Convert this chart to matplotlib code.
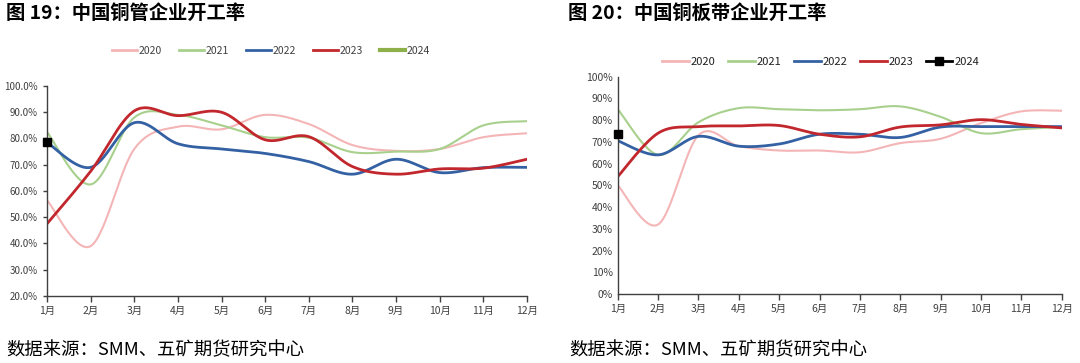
import matplotlib
matplotlib.use("Agg")
import matplotlib.pyplot as plt
from matplotlib.lines import Line2D
from matplotlib.ticker import FuncFormatter
import numpy as np

plt.rcParams["font.family"] = ["Noto Sans CJK SC", "DejaVu Sans"]

months = ["1月", "2月", "3月", "4月", "5月", "6月", "7月", "8月", "9月", "10月", "11月", "12月"]
years = ["2020", "2021", "2022", "2023", "2024"]

# copper tube utilisation (%)
tube_2020 = [56.5, 39, 76, 84.5, 83.5, 89, 85.5, 77.5, 75.3, 76, 80.5, 82]
tube_2021 = [82.5, 62.5, 88, 89, 85, 80.5, 80.3, 74.8, 75, 76, 85, 86.6]
tube_2022 = [78.5, 69, 86, 78, 76, 74.3, 71.2, 66.4, 72.1, 67, 68.9, 69]
tube_2023 = [47.5, 67.5, 90.5, 88.7, 90, 79.5, 80.7, 69.3, 66.4, 68.4, 68.7, 72.1]
tube_2024 = [78.5]

# copper plate/strip utilisation (%)
plate_2020 = [50, 32, 73, 68, 66, 66, 65.2, 69.4, 71.4, 78.6, 84, 84.3]
plate_2021 = [85, 64, 79, 85.5, 85, 84.5, 85, 86.3, 81.5, 74, 75.8, 76.8]
plate_2022 = [70.5, 64, 72.5, 68, 69, 73.5, 73.5, 72, 76.8, 77, 77, 77]
plate_2023 = [54, 74, 77, 77.3, 77.5, 73.5, 72.3, 76.8, 77.8, 80.2, 78, 76.4]
plate_2024 = [73.6]

colors = ["#F4B5B7", "#A8D08D", "#3461A3", "#C1272D"]


def smooth(vals, n=30):
    # Excel-style smoothed line (Bezier through the points)
    x = np.arange(len(vals), dtype=float)
    y = np.array(vals, dtype=float)
    px, py = [], []
    for i in range(len(vals) - 1):
        i0 = max(i - 1, 0)
        i3 = min(i + 2, len(vals) - 1)
        c1x = x[i] + (x[i + 1] - x[i0]) / 6
        c1y = y[i] + (y[i + 1] - y[i0]) / 6
        c2x = x[i + 1] - (x[i3] - x[i]) / 6
        c2y = y[i + 1] - (y[i3] - y[i]) / 6
        t = np.linspace(0, 1, n)
        bx = (1-t)**3*x[i] + 3*(1-t)**2*t*c1x + 3*(1-t)*t**2*c2x + t**3*x[i+1]
        by = (1-t)**3*y[i] + 3*(1-t)**2*t*c1y + 3*(1-t)*t**2*c2y + t**3*y[i+1]
        px.extend(bx)
        py.extend(by)
    return px, py


fig = plt.figure(figsize=(10.8, 3.63), dpi=100)

ax1 = fig.add_axes([0.0435, 0.1846, 0.4445, 0.5785])
ax2 = fig.add_axes([0.572, 0.190, 0.411, 0.599])

lws = [1.5, 1.5, 2.0, 2.0]
for ax, series, last in [(ax1, [tube_2020, tube_2021, tube_2022, tube_2023], tube_2024),
                         (ax2, [plate_2020, plate_2021, plate_2022, plate_2023], plate_2024)]:
    for vals, c, lw in zip(series, colors, lws):
        sx, sy = smooth(vals)
        ax.plot(sx, sy, color=c, lw=lw)
    ax.plot(range(len(last)), last, "s", color="black", ms=6, clip_on=False, zorder=5)
    ax.set_xlim(0, 11)
    ax.set_xticks(range(12))
    ax.set_xticklabels(months)
    for s in ["top", "right"]:
        ax.spines[s].set_visible(False)
    for s in ["left", "bottom"]:
        ax.spines[s].set_color("#404040")
        ax.spines[s].set_linewidth(1.0)
    ax.tick_params(axis="both", direction="out", length=4, color="#404040",
                   labelsize=7.5, labelcolor="#404040", width=1.0)

ax1.set_ylim(20, 100)
ax1.set_yticks(np.arange(20, 101, 10))
ax1.yaxis.set_major_formatter(FuncFormatter(lambda v, p: "%.1f%%" % v))
ax1.tick_params(axis="y", length=3, labelsize=7)
ax1.tick_params(axis="x", labelsize=7.5)

ax2.set_ylim(0, 100)
ax2.set_yticks(np.arange(0, 101, 10))
ax2.yaxis.set_major_formatter(FuncFormatter(lambda v, p: "%d%%" % v))
ax2.tick_params(axis="y", length=0)

# legends
h1 = [Line2D([], [], color=c, lw=2) for c in colors]
h1.append(Line2D([], [], color="#8DB04A", lw=3))
fig.legend(h1, years, loc="center", bbox_to_anchor=(0.251, 0.86), ncol=5,
           frameon=False, fontsize=7.5, handlelength=2.4, columnspacing=1.6,
           handletextpad=0.2, labelcolor="#404040")

h2 = [Line2D([], [], color=c, lw=2) for c in colors]
h2.append(Line2D([], [], color="black", lw=2, marker="s", ms=6))
fig.legend(h2, years, loc="center", bbox_to_anchor=(0.760, 0.829), ncol=5,
           frameon=False, fontsize=8, handlelength=2.4, columnspacing=1.1,
           handletextpad=0.2, labelcolor="#202020")

fig.text(0.0055, 0.962, "图 19：中国铜管企业开工率", fontsize=13.9, fontweight="bold",
         va="center", ha="left")
fig.text(0.526, 0.962, "图 20：中国铜板带企业开工率", fontsize=13.9, fontweight="bold",
         va="center", ha="left")
fig.text(0.0055, 0.036, "数据来源：SMM、五矿期货研究中心", fontsize=13.2,
         va="center", ha="left")
fig.text(0.527, 0.036, "数据来源：SMM、五矿期货研究中心", fontsize=13.2,
         va="center", ha="left")

fig.savefig("out.png", dpi=100, facecolor="white")
